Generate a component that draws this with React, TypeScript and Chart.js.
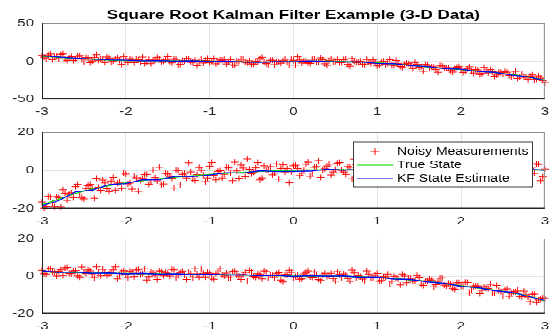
import React, { useEffect, useRef } from "react";
import { Chart, registerables } from "chart.js";

Chart.register(...registerables);

// ---------------- data ----------------
// measurement sample times (two interleaved sets)
const measTimes = [
  -3, -2.95, -2.9, -2.85, -2.8, -2.75, -2.7, -2.65, -2.6, -2.55, -2.5, -2.45, -2.4, -2.35, -2.3, -2.25, -2.2, -2.15, -2.1, -2.05,
  -2, -1.95, -1.9, -1.85, -1.8, -1.75, -1.7, -1.65, -1.6, -1.55, -1.5, -1.45, -1.4, -1.35, -1.3, -1.25, -1.2, -1.15, -1.1, -1.05,
  -1, -0.95, -0.9, -0.85, -0.8, -0.75, -0.7, -0.65, -0.6, -0.55, -0.5, -0.45, -0.4, -0.35, -0.3, -0.25, -0.2, -0.15, -0.1, -0.05,
  0, 0.05, 0.1, 0.15, 0.2, 0.25, 0.3, 0.35, 0.4, 0.45, 0.5, 0.55, 0.6, 0.65, 0.7, 0.75, 0.8, 0.85, 0.9, 0.95,
  1, 1.05, 1.1, 1.15, 1.2, 1.25, 1.3, 1.35, 1.4, 1.45, 1.5, 1.55, 1.6, 1.65, 1.7, 1.75, 1.8, 1.85, 1.9, 1.95,
  2, 2.05, 2.1, 2.15, 2.2, 2.25, 2.3, 2.35, 2.4, 2.45, 2.5, 2.55, 2.6, 2.65, 2.7, 2.75, 2.8, 2.85, 2.9, 2.95, 3,
];
const measTimesB = [
  -2.975, -2.925, -2.875, -2.825, -2.775, -2.725, -2.675, -2.625, -2.575, -2.525,
  -2.475, -2.425, -2.375, -2.325, -2.275, -2.225, -2.175, -2.125, -2.075, -2.025,
  -1.975, -1.925, -1.875, -1.825, -1.775, -1.725, -1.675, -1.625, -1.575, -1.525,
  -1.475, -1.425, -1.375, -1.325, -1.275, -1.225, -1.175, -1.125, -1.075, -1.025,
  -0.975, -0.925, -0.875, -0.825, -0.775, -0.725, -0.675, -0.625, -0.575, -0.525,
  -0.475, -0.425, -0.375, -0.325, -0.275, -0.225, -0.175, -0.125, -0.075, -0.025,
  0.025, 0.075, 0.125, 0.175, 0.225, 0.275, 0.325, 0.375, 0.425, 0.475,
  0.525, 0.575, 0.625, 0.675, 0.725, 0.775, 0.825, 0.875, 0.925, 0.975,
  1.025, 1.075, 1.125, 1.175, 1.225, 1.275, 1.325, 1.375, 1.425, 1.475,
  1.525, 1.575, 1.625, 1.675, 1.725, 1.775, 1.825, 1.875, 1.925, 1.975,
  2.025, 2.075, 2.125, 2.175, 2.225, 2.275, 2.325, 2.375, 2.425, 2.475,
  2.525, 2.575, 2.625, 2.675, 2.725, 2.775, 2.825, 2.875, 2.925, 2.975,
];

const lineTimes = [
  -3, -2.8, -2.6, -2.4, -2.2, -2, -1.8, -1.6, -1.4, -1.2, -1, -0.8, -0.6, -0.4, -0.2, 0,
  0.2, 0.4, 0.6, 0.8, 1, 1.2, 1.4, 1.6, 1.8, 2, 2.2, 2.4, 2.6, 2.8, 3,
];

// Panel 1 (state 1)
const meas1 = [
  7.7, 3.6, 9.6, 5.8, 3.3, 9.7, 1.1, 5.9, 2.9, 7.6,
  -1.1, 4.3, 0.3, 8.7, 2.8, -1.8, 4.2, 0.3, 4.6, -4.1,
  1.3, 3.4, -2.0, 1.9, 5.4, -1.1, -3.2, 1.4, 2.7, 0.2,
  6.0, -2.2, 2.3, -4.1, 0.5, 3.3, -1.2, -6.0, 2.9, 1.0,
  -2.0, 3.9, -1.0, 1.4, -3.6, 2.1, -5.6, -0.1, 2.8, -2.2,
  -3.7, 0.0, 3.6, -1.3, -4.8, 1.3, -0.3, -2.6, 2.6, -5.0,
  1.1, 5.8, -2.4, 0.1, -3.0, 2.9, -0.7, 1.8, -5.5, 3.3,
  -0.2, -1.9, 2.1, -4.1, 3.5, -1.9, 0.1, -4.3, -1.3, 1.7,
  -6.2, -0.9, -4.1, 2.0, -5.7, -3.2, -8.2, -2.6, -5.7, -1.8,
  -7.9, -13.3, -5.5, -7.3, -10.7, -5.6, -9.3, -8.5, -14.4, -7.9,
  -10.7, -12.5, -7.3, -15.6, -11.5, -16.1, -13.1, -11.0, -19.8, -14.6,
  -16.7, -14.5, -21.0, -13.4, -21.0, -19.9, -23.9, -18.1, -23.6, -22.4,
  -28.2,
];
const meas1b = [
  5.4, 8.2, 2.1, 6.6, 9.0, 2.9, 4.4, 0.9, 6.4, 2.7,
  4.8, -2.0, 5.0, 1.2, 2.6, 5.5, -0.8, 2.5, 1.0, 6.1,
  -2.0, 1.8, 2.9, -0.6, -3.0, 2.3, 1.1, 5.1, -1.4, 1.7,
  -0.2, 3.3, -4.8, 0.9, 3.6, -1.6, 1.2, -0.3, -2.4, 4.0,
  0.2, -3.4, 1.6, 2.2, -1.5, -4.8, 0.2, 2.8, -1.5, 0.6,
  -3.8, -1.2, 5.1, -3.0, 1.3, -4.5, -0.3, 0.7, -1.3, 2.8,
  -5.2, 1.6, 0.4, -2.1, 2.6, -1.2, 4.4, -3.4, 0.9, -0.5,
  2.1, -1.9, 3.0, -6.6, 0.2, -0.5, -3.8, 2.3, -2.8, -0.7,
  -5.5, 0.1, -3.0, -5.2, 1.0, -6.9, -4.0, -3.3, -9.7, -4.1,
  -7.2, -4.1, -9.0, -7.7, -14.6, -6.5, -8.5, -12.1, -10.1, -7.1,
  -14.8, -10.2, -12.5, -10.8, -17.7, -8.2, -15.3, -14.0, -18.2, -14.6,
  -13.6, -18.8, -17.5, -22.7, -17.0, -21.3, -19.7, -24.5, -19.4, -25.6,
];
const true1 = [
  6.5, 5.0, 3.5, 2.5, 1.5, 1.0, 0.8, 0.6, 0.4, 0.2, 0.0, -0.3, -0.8, -1.2, -0.8, -0.3,
  0.0, 0.0, -0.5, -1.2, -2.2, -3.6, -5.4, -7.5, -9.2, -11.0, -13.0, -15.0, -17.5, -21.0, -25.0,
];
const kf1 = [
  7.2, 5.6, 4.1, 2.9, 1.8, 1.3, 0.7, 0.9, 0.1, 0.5, -0.4, 0.1, -1.1, -1.5, -0.5, -0.6,
  0.4, -0.3, -1.0, -0.9, -2.8, -3.2, -5.9, -7.0, -9.8, -10.6, -13.5, -14.6, -18.1, -20.6, -25.4,
];

// Panel 2 (state 2)
const meas2 = [
  -16.5, -19.0, -13.9, -19.1, -14.3, -10.1, -15.7, -11.7, -8.5, -12.3,
  -14.9, -8.0, -9.6, -4.1, -10.4, -6.6, -11.1, -3.7, -6.7, -9.5,
  -1.9, -6.6, -3.0, -11.0, -4.2, -2.1, -6.1, -3.8, 1.6, -7.1,
  -1.9, -4.1, 0.1, -7.6, -1.6, 4.0, -4.5, -2.2, 0.0, -5.9,
  2.2, -2.5, -0.5, -4.0, 1.7, -1.3, 4.3, -4.1, 1.2, 5.9,
  -1.8, 1.3, -5.0, 2.4, 0.2, -2.3, 3.4, 1.0, -0.8, -6.5,
  2.4, 1.0, -1.5, 3.2, -3.1, 1.6, 5.1, 0.1, 2.3, -2.4,
  0.6, 4.1, -0.8, 2.0, -4.4, 2.9, 0.3, -3.2, 4.5, -0.5,
  1.7, -2.1, 3.5, 0.9, -1.2, 5.2, -3.6, 1.2, 2.9, -0.3,
  -1.9, 3.6, 1.0, -3.9, 2.1, 4.7, -1.1, 0.6, -2.6, 3.2,
  0.1, 1.8, -3.7, 2.5, 0.8, -1.7, 4.2, -0.2, 2.3, -3.0,
  1.4, 3.8, -2.3, 1.1, -0.8, 3.0, -4.2, 1.6, 3.5, -5.4,
  0.7,
];
const meas2b = [
  -19.7, -13.6, -16.9, -13.7, -19.2, -11.9, -12.6, -14.3, -7.3, -14.4,
  -9.5, -7.3, -14.6, -8.8, -5.1, -9.6, -5.6, -10.3, -6.3, -1.4,
  -7.0, -9.8, -3.9, -5.2, -2.2, -7.2, 0.1, -5.5, -7.7, -1.6,
  -3.2, -9.3, -0.1, -2.1, -4.0, -0.8, -5.3, 1.5, -2.4, -4.0,
  4.1, -5.0, -0.2, -2.0, 1.3, -5.4, -0.3, 2.8, -3.3, 0.6,
  -0.9, 4.1, -4.0, 0.2, 2.0, -1.5, -4.6, 2.9, 1.0, -0.7,
  2.7, -2.7, 0.3, 4.3, -1.4, 2.0, -3.7, 0.8, 3.2, -0.8,
  3.8, 0.0, -2.1, 1.6, 5.8, -1.4, 1.1, -2.7, 2.3, 0.7,
  -1.3, 3.9, -4.1, 1.8, 0.3, 2.6, -1.8, 4.5, -0.4, 1.3,
  -3.4, 2.4, 1.1, -1.1, 4.1, -2.5, 0.5, 1.9, -4.6, 3.0,
  -0.3, 1.2, 3.6, -1.9, 0.8, -3.1, 2.2, 5.1, -1.2, 0.4,
  -2.3, 1.7, 3.3, -0.7, -3.9, 2.6, 0.9, -1.6, 3.1, -3.4,
];
const true2 = [
  -18.0, -15.0, -12.0, -9.8, -8.0, -6.5, -5.4, -4.4, -3.6, -2.8, -2.1, -1.5, -1.0, -0.5, -0.2, 0.0,
  0.2, 0.3, 0.3, 0.3, 0.2, 0.2, 0.2, 0.2, 0.2, 0.2, 0.2, 0.2, 0.2, 0.2, 0.2,
];
const kf2 = [
  -18.5, -15.8, -11.2, -10.3, -7.4, -6.9, -5.0, -4.9, -3.1, -3.3, -2.4, -1.2, -1.4, -0.2, -0.6, -0.5,
  -0.4, 0.6, 0.1, 0.5, 0.0, 0.4, -0.1, 0.5, 0.0, 0.3, 0.1, 0.4, -0.2, 0.5, 0.1,
];

// Panel 3 (state 3)
const meas3 = [
  3.1, 1.1, 4.1, 1.8, 2.6, 0.3, 4.6, 1.3, 3.0, -0.5,
  2.1, 3.3, 0.8, 4.9, 0.1, 2.2, 1.3, 3.3, -1.5, 2.3,
  0.9, 2.7, -0.3, 3.5, 1.4, -2.1, 2.3, 0.4, 2.8, 0.1,
  1.5, 3.6, -0.9, 1.7, 0.7, 2.2, -0.9, 1.2, 3.8, -0.5,
  1.5, -1.7, 2.2, 0.7, 1.6, -1.0, 2.7, 0.0, 0.9, -2.6,
  2.2, -0.6, 0.9, 2.8, -1.0, 0.3, 1.3, -2.1, 0.9, 3.1,
  -0.9, 0.4, -1.5, 1.9, -0.4, 2.3, -1.8, 0.7, -0.2, 1.5,
  -2.7, 0.9, 1.2, -1.3, 3.2, -0.9, -0.2, -2.6, 1.1, -0.9,
  1.4, -2.3, -0.5, -4.2, -0.1, -1.5, 1.1, -3.5, -1.2, -2.7,
  -0.6, -5.0, -2.5, -2.1, -4.6, -1.1, -4.8, -3.7, -6.5, -3.5,
  -5.4, -3.3, -9.1, -5.3, -5.2, -7.6, -6.5, -4.4, -9.1, -7.7,
  -10.6, -6.8, -9.2, -8.3, -10.9, -8.0, -11.2, -9.7, -14.1, -12.0,
  -12.0,
];
const meas3b = [
  1.3, 3.8, 2.5, 0.0, 3.3, 4.4, 1.4, 2.8, 0.1, 4.8,
  1.4, 2.8, -0.8, 2.2, 3.6, 0.3, 1.6, 4.9, 0.5, 2.9,
  -0.8, 2.1, 3.2, 1.0, 3.9, -0.3, 1.6, -1.8, 2.5, 1.9,
  0.0, 3.3, 0.6, 2.7, -1.8, 1.2, 3.9, -0.5, 1.5, 1.9,
  -1.1, 1.3, 3.9, 0.0, -0.8, 2.5, 0.6, -1.8, 2.0, 3.0,
  -0.2, 1.3, -1.5, 2.4, 0.6, -0.8, 1.8, -3.1, 0.9, 2.0,
  -0.2, -1.7, 1.2, 2.8, -0.6, 0.4, -2.3, 1.5, 0.1, -1.3,
  2.4, -1.0, 0.6, -2.8, 1.7, 0.2, -1.6, 2.8, -1.0, 0.4,
  -2.8, -0.3, 1.1, -2.7, -1.1, -4.7, 0.0, -1.0, -2.8, 0.3,
  -4.3, -2.5, -1.6, -5.7, -2.8, -0.9, -5.2, -4.1, -7.0, -3.5,
  -5.4, -3.4, -7.3, -5.3, -9.4, -5.6, -6.6, -9.0, -5.0, -8.3,
  -7.2, -10.8, -8.4, -7.6, -11.0, -10.0, -13.6, -9.6, -12.8, -11.6,
];
const true3 = [
  2.3, 2.1, 1.9, 1.7, 1.5, 1.4, 1.3, 1.2, 1.06, 0.98, 0.9, 0.74, 0.58, 0.4, 0.2, 0.0,
  0.0, 0.0, -0.1, -0.4, -0.7, -1.3, -2.0, -2.8, -4.0, -5.2, -6.3, -7.5, -8.8, -10.5, -13.3,
];
const kf3 = [
  2.8, 2.0, 2.2, 1.5, 1.7, 1.2, 1.5, 1.0, 1.2, 0.8, 1.0, 0.6, 0.7, 0.2, 0.4, -0.2,
  0.2, -0.1, 0.1, -0.6, -0.5, -1.6, -1.8, -3.1, -3.8, -5.5, -6.1, -7.8, -8.6, -10.8, -13.0,
];

const xRange = [-3, 3];
const xStep = 1;
const yRange1 = [-50, 50];
const yStep1 = 50;
const yRange2 = [-20, 20];
const yStep2 = 20;
const yRange3 = [-20, 20];
const yStep3 = 20;

const titleText = "Square Root Kalman Filter Example (3-D Data)";
const legendLabels = ["Noisy Measurements", "True State", "KF State Estimate"];

// ---------------- layout / style ----------------
const FONT = "'Liberation Sans', Arial, Helvetica, sans-serif";
const W = 557;
const SCALE_Y = 0.75;
const INNER_H = 444;
const AXIS_LEFT = 42;
const PAD_RIGHT = 9;
const TEXT_COLOR = "#262626";

type PanelSpec = {
  meas: number[];
  measB: number[];
  tru: number[];
  kf: number[];
  yRange: number[];
  yStep: number;
  canvasTop: number;
  canvasHeight: number;
  areaTop: number;
  areaBottom: number;
  title?: string;
  legend?: boolean;
};

const panels: PanelSpec[] = [
  { meas: meas1, measB: meas1b, tru: true1, kf: kf1, yRange: yRange1, yStep: yStep1, canvasTop: 0, canvasHeight: 170, areaTop: 31, areaBottom: 132, title: titleText },
  { meas: meas2, measB: meas2b, tru: true2, kf: kf2, yRange: yRange2, yStep: yStep2, canvasTop: 150, canvasHeight: 160, areaTop: 26, areaBottom: 128, legend: true },
  { meas: meas3, measB: meas3b, tru: true3, kf: kf3, yRange: yRange3, yStep: yStep3, canvasTop: 290, canvasHeight: 154, areaTop: 28, areaBottom: 128 },
];

function Panel({ spec }: { spec: PanelSpec }) {
  const ref = useRef<HTMLCanvasElement | null>(null);

  useEffect(() => {
    const canvas = ref.current;
    if (!canvas) return;
    const pts = (xs: number[], ys: number[]) => xs.map((x, i) => ({ x, y: ys[i] }));

    const decor = {
      id: "matlabDecor",
      afterDatasetsDraw(chart: any) {
        const ctx = chart.ctx as CanvasRenderingContext2D;
        const a = chart.chartArea;
        ctx.save();
        // axes box
        ctx.lineWidth = 1;
        ctx.strokeStyle = "#8c8c8c";
        ctx.beginPath();
        ctx.moveTo(a.left, a.top + 0.5);
        ctx.lineTo(a.right, a.top + 0.5);
        ctx.moveTo(a.right - 0.5, a.top);
        ctx.lineTo(a.right - 0.5, a.bottom);
        ctx.stroke();
        ctx.strokeStyle = "#262626";
        ctx.beginPath();
        ctx.moveTo(a.left + 0.5, a.top);
        ctx.lineTo(a.left + 0.5, a.bottom);
        ctx.stroke();
        ctx.lineWidth = 1.4;
        ctx.beginPath();
        ctx.moveTo(a.left, a.bottom - 0.7);
        ctx.lineTo(a.right, a.bottom - 0.7);
        ctx.stroke();

        if (spec.title) {
          ctx.font = `bold 17px ${FONT}`;
          ctx.fillStyle = "#000";
          ctx.textAlign = "center";
          ctx.textBaseline = "middle";
          ctx.fillText(spec.title, (a.left + a.right) / 2, 20);
        }

        if (spec.legend) {
          const L = 353.5, R = 532.5, T = 39, B = 99;
          ctx.fillStyle = "#fff";
          ctx.fillRect(L, T, R - L, B - T);
          ctx.lineWidth = 1;
          ctx.strokeStyle = "#3a3a3a";
          ctx.strokeRect(L, T, R - L, B - T);
          const rows = [T + 13, T + 31, T + 49];
          ctx.strokeStyle = "#ff0000";
          ctx.lineWidth = 1;
          ctx.beginPath();
          ctx.moveTo(370.5, rows[0]);
          ctx.lineTo(379.5, rows[0]);
          ctx.moveTo(375, rows[0] - 5);
          ctx.lineTo(375, rows[0] + 5);
          ctx.stroke();
          ctx.lineWidth = 2;
          ctx.strokeStyle = "rgb(120,235,120)";
          ctx.beginPath();
          ctx.moveTo(357, rows[1]);
          ctx.lineTo(393, rows[1]);
          ctx.stroke();
          ctx.strokeStyle = "rgb(130,130,255)";
          ctx.beginPath();
          ctx.moveTo(357, rows[2]);
          ctx.lineTo(393, rows[2]);
          ctx.stroke();
          ctx.font = `14px ${FONT}`;
          ctx.fillStyle = "#000";
          ctx.textAlign = "left";
          ctx.textBaseline = "middle";
          legendLabels.forEach((t, i) => ctx.fillText(t, 397, rows[i] + 0.5));
        }
        ctx.restore();
      },
    };

    const tickFont = { family: FONT, size: 15 };
    const chart = new Chart(canvas, {
      type: "scatter",
      data: {
        datasets: [
          {
            label: legendLabels[0],
            data: pts(measTimes, spec.meas).concat(pts(measTimesB, spec.measB)),
            showLine: false,
            pointStyle: "cross",
            pointRadius: 4,
            pointBorderWidth: 1,
            pointBorderColor: "#ff0000",
            borderColor: "#ff0000",
            backgroundColor: "#ff0000",
            order: 3,
            clip: false,
          },
          {
            label: legendLabels[1],
            data: pts(lineTimes, spec.tru),
            showLine: true,
            pointRadius: 0,
            borderColor: "#00e600",
            borderWidth: 1.3,
            order: 2,
            clip: false,
          },
          {
            label: legendLabels[2],
            data: pts(lineTimes, spec.kf),
            showLine: true,
            pointRadius: 0,
            borderColor: "#0000ff",
            borderWidth: 1.3,
            order: 1,
            clip: false,
          },
        ],
      } as any,
      options: {
        responsive: false,
        maintainAspectRatio: false,
        animation: false,
        devicePixelRatio: 1,
        events: [],
        layout: { padding: { top: spec.areaTop, right: PAD_RIGHT, bottom: 0, left: 0 } },
        plugins: {
          legend: { display: false },
          tooltip: { enabled: false },
          title: { display: false },
        },
        scales: {
          x: {
            type: "linear",
            min: xRange[0],
            max: xRange[1],
            ticks: { stepSize: xStep, padding: 8, color: TEXT_COLOR, font: tickFont },
            grid: { color: "#e2e2e2", drawTicks: false, lineWidth: 1 },
            border: { display: false },
            afterFit: (s: any) => {
              s.height = spec.canvasHeight - spec.areaBottom;
            },
          },
          y: {
            type: "linear",
            min: spec.yRange[0],
            max: spec.yRange[1],
            ticks: { stepSize: spec.yStep, padding: 8, color: TEXT_COLOR, font: tickFont },
            grid: { color: "#e2e2e2", drawTicks: false, lineWidth: 1 },
            border: { display: false },
            afterFit: (s: any) => {
              s.width = AXIS_LEFT;
            },
          },
        },
      } as any,
      plugins: [decor as any],
    });
    return () => chart.destroy();
  }, [spec]);

  return (
    <canvas
      ref={ref}
      width={W}
      height={spec.canvasHeight}
      style={{ position: "absolute", left: 0, top: spec.canvasTop, width: W, height: spec.canvasHeight }}
    />
  );
}

export default function App() {
  return (
    <div style={{ position: "absolute", left: 0, top: 0, width: W, height: 333, overflow: "hidden", background: "#fff" }}>
      <div
        style={{
          position: "absolute",
          left: 0,
          top: 0,
          width: W,
          height: INNER_H,
          transform: `scaleY(${SCALE_Y})`,
          transformOrigin: "0 0",
        }}
      >
        {panels.map((p, i) => (
          <Panel key={i} spec={p} />
        ))}
      </div>
    </div>
  );
}
